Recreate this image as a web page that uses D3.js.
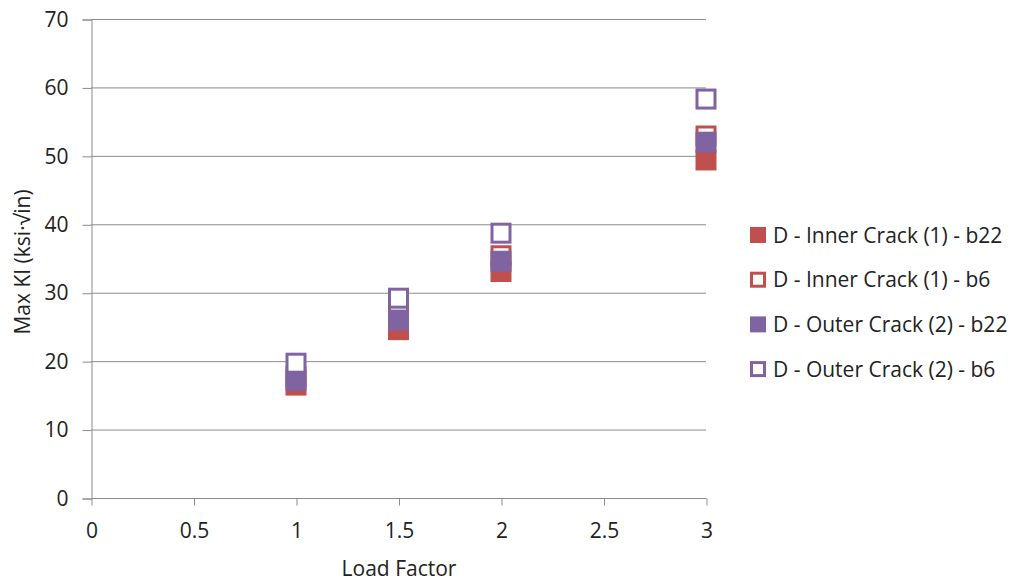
<!DOCTYPE html>
<html>
<head>
<meta charset="utf-8">
<script src="https://cdn.jsdelivr.net/npm/d3@7"></script>
<style>
  html, body { margin: 0; padding: 0; background: #fff; }
  svg text { font-family: "Open Sans", "Liberation Sans", sans-serif; fill: #222; }
</style>
</head>
<body>
<svg id="chart" width="1021" height="581"></svg>
<script>
// Load factors and peak stress-intensity values for each crack/series
const loadFactors = [1, 1.5, 2, 3];
const innerB22 = [16.5, 24.6, 33.1, 49.4];
const innerB6  = [17.7, 26.8, 35.4, 52.9];
const outerB22 = [17.2, 26.0, 34.6, 52.0];
const outerB6  = [19.7, 29.2, 38.7, 58.3];

const seriesNames = [
  "D - Inner Crack (1) - b22",
  "D - Inner Crack (1) - b6",
  "D - Outer Crack (2) - b22",
  "D - Outer Crack (2) - b6"
];
const xTicks = [0, 0.5, 1, 1.5, 2, 2.5, 3];
const yTicks = [0, 10, 20, 30, 40, 50, 60, 70];

const RED = "#C0504D", PURPLE = "#8064A2";
const series = [
  { name: seriesNames[0], values: innerB22, color: RED, filled: true },
  { name: seriesNames[1], values: innerB6, color: RED, filled: false },
  { name: seriesNames[2], values: outerB22, color: PURPLE, filled: true },
  { name: seriesNames[3], values: outerB6, color: PURPLE, filled: false }
];

const FONT = 21;
const svg = d3.select("#chart");
const plot = { left: 91, right: 706, top: 19, bottom: 498 };

const x = d3.scaleLinear().domain([0, 3]).range([plot.left, plot.right]);
const y = d3.scaleLinear().domain([0, 70]).range([plot.bottom, plot.top]);

// horizontal gridlines
svg.append("g").selectAll("line").data(yTicks.filter(d => d > 0)).join("line")
  .attr("x1", plot.left).attr("x2", plot.right)
  .attr("y1", d => y(d) + 0.5).attr("y2", d => y(d) + 0.5)
  .attr("stroke", "#8c8c8c").attr("stroke-width", 1);

// y axis
const yAxis = svg.append("g").attr("transform", `translate(${plot.left + 0.5},0.5)`)
  .call(d3.axisLeft(y).tickValues(yTicks).tickSize(9).tickPadding(14).tickFormat(d3.format("d")));
yAxis.selectAll("path, line").attr("stroke", "#8c8c8c");
yAxis.selectAll("text").attr("font-size", FONT).attr("fill", "#222");

// x axis
const xAxis = svg.append("g").attr("transform", `translate(0.5,${plot.bottom + 0.5})`)
  .call(d3.axisBottom(x).tickValues(xTicks).tickSize(7).tickPadding(18).tickFormat(d3.format("")));
xAxis.select(".domain").attr("d", `M${plot.left},0H${plot.right}`);
xAxis.selectAll("path, line").attr("stroke", "#8c8c8c");
xAxis.selectAll("text").attr("font-size", FONT).attr("fill", "#222");

// markers
const size = 18;
series.forEach(s => {
  svg.append("g").selectAll("rect").data(s.values.map((v, i) => [loadFactors[i], v])).join("rect")
    .attr("x", d => x(d[0]) - size / 2 + (s.filled ? -1.5 : 0))
    .attr("y", d => y(d[1]) - size / 2 + (s.filled ? -1.5 : 0))
    .attr("width", s.filled ? size + 3 : size)
    .attr("height", s.filled ? size + 3 : size)
    .attr("fill", s.filled ? s.color : "#fff")
    .attr("stroke", s.filled ? "none" : s.color)
    .attr("stroke-width", 3);
});

// axis titles
svg.append("text").attr("x", 399).attr("y", 576).attr("text-anchor", "middle")
  .attr("font-size", FONT).text("Load Factor");
svg.append("text").attr("transform", "translate(30,262) rotate(-90)").attr("text-anchor", "middle")
  .attr("font-size", FONT).text("Max KI (ksi·√in)");

// legend
const legend = svg.append("g");
series.forEach((s, i) => {
  const cy = 235 + i * 44.7;
  legend.append("rect")
    .attr("x", s.filled ? 750 : 751.5).attr("y", s.filled ? cy - 8 : cy - 6.5)
    .attr("width", s.filled ? 16 : 13).attr("height", s.filled ? 16 : 13)
    .attr("fill", s.filled ? s.color : "#fff")
    .attr("stroke", s.filled ? "none" : s.color).attr("stroke-width", 3);
  legend.append("text").attr("x", 773).attr("y", cy + 7.5).attr("font-size", FONT).text(s.name);
});
</script>
</body>
</html>
